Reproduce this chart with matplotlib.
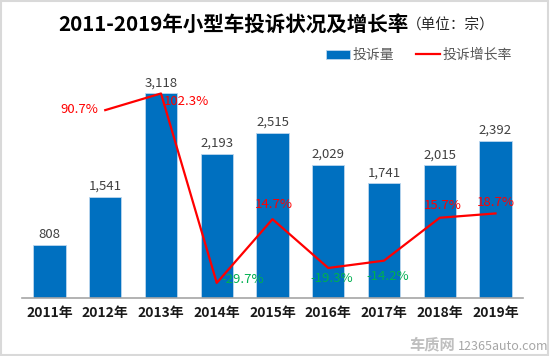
import matplotlib.pyplot as plt
from matplotlib.patches import Rectangle

plt.rcParams['font.family'] = ['Noto Sans CJK SC', 'DejaVu Sans']

# dados
anos = ['2011年', '2012年', '2013年', '2014年', '2015年', '2016年', '2017年', '2018年', '2019年']
volume = [808, 1541, 3118, 2193, 2515, 2029, 1741, 2015, 2392]
crescimento = [None, 90.7, 102.3, -29.7, 14.7, -19.3, -14.2, 15.7, 18.7]
rotulos_pct = ['', '90.7%', '102.3%', '-29.7%', '14.7%', '-19.3%', '-14.2%', '15.7%', '18.7%']

# deslocamento dos rótulos (pixels) em relação ao ponto
desloc = [(0, 0), (-26, 1), (25, -8), (26, 3), (1, 15), (3, -11), (4, -16), (3, 12), (0, 11)]

fig = plt.figure(figsize=(5.5, 3.56), dpi=100)
ax = fig.add_axes([0.0393, 0.1638, 0.9123, 0.645])

x = list(range(len(anos)))
ax.bar(x, volume, width=0.58, color='#0070C0', edgecolor='#BDD7EE', linewidth=0.6, label='投诉量')
for i, v in enumerate(volume):
    ax.text(i, v + 60, f'{v:,}', ha='center', va='bottom', fontsize=9.5, color='#404040')

ax.set_xlim(-0.5, len(anos) - 0.5)
ax.set_ylim(0, 3500)
ax.set_yticks([])
ax.set_xticks(x)
ax.set_xticklabels(anos, fontsize=10, fontweight='bold', color='#1a1a1a')
ax.tick_params(axis='x', length=0, pad=6)
for s in ['top', 'left', 'right']:
    ax.spines[s].set_visible(False)
ax.spines['bottom'].set_color('#A6A6A6')
ax.spines['bottom'].set_linewidth(1.2)

ax2 = ax.twinx()
xs = [i for i, c in enumerate(crescimento) if c is not None]
ys = [c for c in crescimento if c is not None]
ax2.plot(xs, ys, color='#FF0000', linewidth=1.6, label='投诉增长率')
ax2.set_ylim(-40, 120)
ax2.set_yticks([])
for s in ax2.spines.values():
    s.set_visible(False)

for i in xs:
    c = crescimento[i]
    cor = '#FF0000' if c >= 0 else '#00B050'
    ax2.annotate(rotulos_pct[i], (i, c), xytext=desloc[i], textcoords='offset pixels',
                 ha='center', va='center', fontsize=9.5, color=cor)

# legenda
h1, l1 = ax.get_legend_handles_labels()
h2, l2 = ax2.get_legend_handles_labels()
fig.legend(h1 + h2, l1 + l2, loc='center left', bbox_to_anchor=(326 / 550, 1 - 55 / 356), ncol=2,
           frameon=False, fontsize=10, labelcolor='#595959', handlelength=1.7,
           handleheight=0.6, columnspacing=1.6, handletextpad=0.2,
           borderpad=0, borderaxespad=0)

# título
fig.text(58 / 550, 1 - 25 / 356, '2011-2019年小型车投诉状况及增长率', fontsize=14.8,
         fontweight='bold', ha='left', va='center', color='black')
fig.text(407 / 550, 1 - 26 / 356, '（单位：宗）', fontsize=10.5, ha='left', va='center', color='#262626')

# marca d'água
fig.text(455 / 550, 1 - 344 / 356, '车质网', fontsize=11, fontweight='bold', ha='right', va='center', color='#BFBFBF')
fig.text(458 / 550, 1 - 347 / 356, '12365auto.com', fontsize=9, ha='left', va='center', color='#A6A6A6')

# borda
fig.patches.append(Rectangle((0.002, 0.003), 0.995, 0.994, transform=fig.transFigure,
                             fill=False, edgecolor='#D9D9D9', linewidth=1.5))

plt.savefig('out.png', dpi=100)
